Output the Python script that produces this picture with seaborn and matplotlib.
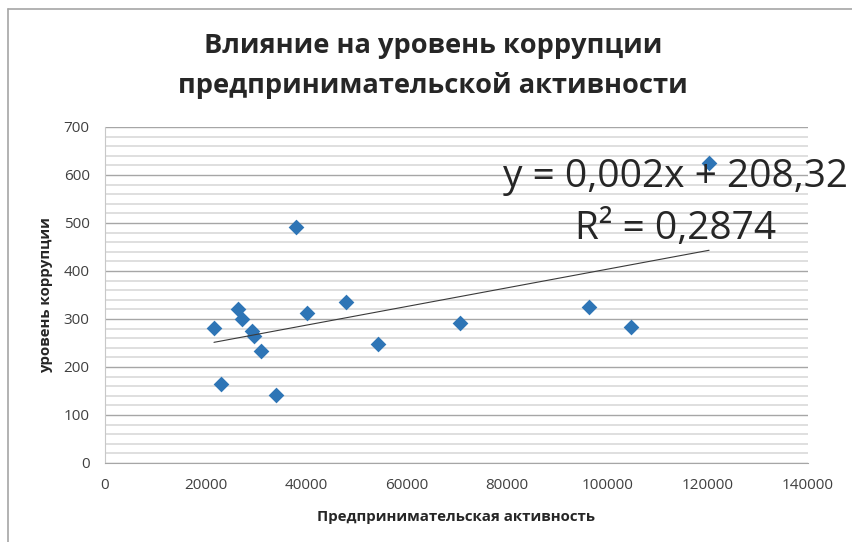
import matplotlib
matplotlib.use("Agg")
import matplotlib.pyplot as plt
from matplotlib.lines import Line2D
from matplotlib.ticker import MultipleLocator
import seaborn as sns
import pandas as pd

# предпринимательская активность vs уровень коррупции
activity = [21700, 23100, 26500, 27300, 29300, 29700, 31000, 34000,
            38100, 40300, 48000, 54300, 70700, 96300, 104700, 120300]
corruption = [282, 165, 321, 299, 274, 265, 234, 142,
              492, 313, 336, 248, 292, 324, 283, 624]
x_ticks = [0, 20000, 40000, 60000, 80000, 100000, 120000, 140000]
y_ticks = [0, 100, 200, 300, 400, 500, 600, 700]

title = "Влияние на уровень коррупции\nпредпринимательской активности"
x_label = "Предпринимательская активность"
y_label = "уровень коррупции"
trend_text = "y = 0,002x + 208,32\nR² = 0,2874"

df = pd.DataFrame({"x": activity, "y": corruption})

sns.set_style("white")
plt.rcParams["font.family"] = ["Open Sans", "DejaVu Sans"]

W, H = 853, 542
fig = plt.figure(figsize=(W / 100, H / 100), dpi=100)
ax = fig.add_axes([105 / W, 1 - 463 / H, (808 - 105) / W, (463 - 127) / H])

sns.regplot(data=df, x="x", y="y", ax=ax, ci=None, truncate=True, marker="D",
            scatter_kws={"s": 64, "color": "#2E75B6", "linewidths": 0, "alpha": 1, "zorder": 3},
            line_kws={"color": "#3a3a3a", "linewidth": 0.8, "zorder": 4})

ax.set_xlim(0, 140000)
ax.set_ylim(0, 700)
ax.set_xticks(x_ticks)
ax.set_yticks(y_ticks)
ax.yaxis.set_minor_locator(MultipleLocator(20))
ax.grid(which="minor", axis="y", color="#dcdcdc", linewidth=1.3)
ax.grid(which="major", axis="y", color="#a6a6a6", linewidth=1.0)
ax.set_axisbelow(True)

for s in ["top", "right"]:
    ax.spines[s].set_visible(False)
ax.spines["left"].set_color("#c8c8c8")
ax.spines["bottom"].set_color("#a6a6a6")
ax.tick_params(which="major", direction="out", length=5, width=0.8, color="#a6a6a6",
               labelsize=11, labelcolor="#404040", pad=6)
ax.tick_params(which="minor", length=0)

ax.set_xlabel(x_label, fontsize=10.8, fontweight="bold", color="#262626", labelpad=12)
ax.set_ylabel(y_label, fontsize=10.8, fontweight="bold", color="#262626", labelpad=8)

fig.text(433 / W, 1 - 66 / H, title, ha="center", va="center", fontsize=19.6,
         fontweight="bold", color="#262626", linespacing=1.6)
ax.text(676 / W, 1 - 203 / H, trend_text, transform=fig.transFigure, ha="center",
        va="center", fontsize=28, color="#262626", linespacing=1.45, zorder=5)

# рамка области диаграммы
fig.add_artist(Line2D([8 / W, 8 / W], [0, 1 - 9 / H], color="#a6a6a6", linewidth=1.2))
fig.add_artist(Line2D([8 / W, 1], [1 - 9 / H, 1 - 9 / H], color="#a6a6a6", linewidth=1.2))

fig.savefig("out.png", dpi=100)
